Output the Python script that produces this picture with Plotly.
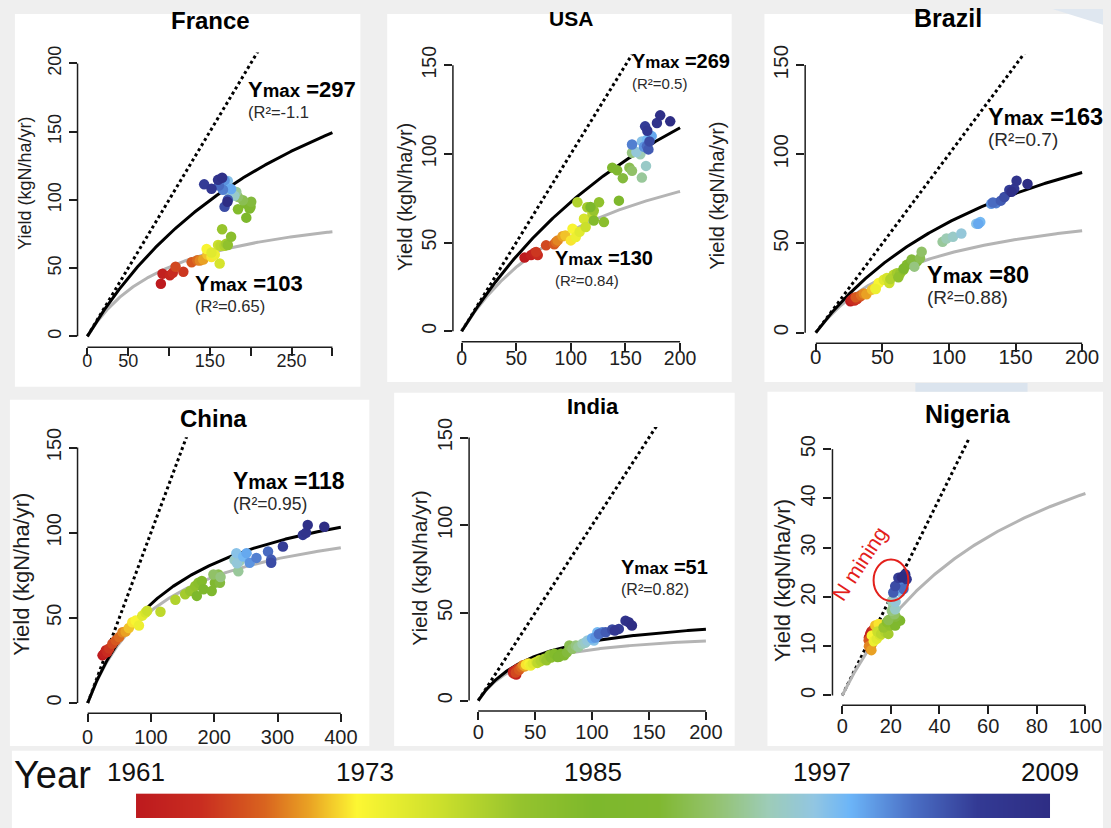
import numpy as np
import plotly.graph_objects as go

W, H = 1111, 828
FONT = "Liberation Sans, Arial, sans-serif"
INK = "#1e1e1e"

years = list(range(1961, 2010))
year_ticks = [1961, 1973, 1985, 1997, 2009]

# N input and yield (kgN/ha/yr), one value per year 1961-2009
france_n = [90, 92, 101, 104.6, 117.5, 108, 127.7, 134.6, 137.8, 141.9,
            147, 152, 146, 156, 152, 162, 160, 163, 168, 170,
            165, 172, 176, 184.4, 194.6, 198.6, 193.4, 199.8, 200.6, 190.5,
            184.4, 178.4, 182.4, 176, 180, 174, 172, 170, 176, 168,
            166, 161, 172, 168, 143, 152, 160, 165, 171.5]
france_y = [38.6, 45.9, 44.7, 46.6, 47.3, 51, 54.3, 55.8, 55.6, 56.3,
            60, 58.2, 64, 60, 61.5, 53.4, 67, 66.4, 66.4, 67.9,
            78.5, 67, 73, 93.2, 87, 93.7, 97.3, 95, 98.6, 99.8,
            102.2, 104, 105.8, 107.5, 103, 106, 113.8, 109.4, 108, 114.3,
            107.5, 110.6, 100.2, 95, 111.4, 108.2, 114.7, 116.2, 98.6]

usa_n = [57.6, 63.6, 66.7, 69.7, 68.2, 77.3, 84.8, 86.4, 87.9, 92.4,
         95, 100, 101.5, 104.5, 108, 112, 113.6, 119.7, 106, 115,
         121, 125.8, 130.3, 121, 118, 144, 137.9, 142.4, 147.6, 153.6,
         156, 156, 165, 163.6, 168.8, 160, 165, 169.7, 174, 167,
         156, 169.7, 171, 172, 168, 170, 178.8, 181.8, 191]
usa_y = [41.5, 42.9, 44.2, 42.9, 44.7, 48.4, 49.0, 50.3, 51.2, 53.5,
         54, 51.2, 57.8, 53.1, 56, 63.4, 58.7, 66.1, 72.7, 69.9,
         68, 72.7, 61.5, 62.4, 70, 73.6, 92.2, 90.7, 86.3, 92.2,
         90.4, 100.6, 86.6, 99.7, 93.2, 101, 107, 108, 110, 104,
         105.3, 104.3, 102.5, 107, 115.5, 113, 117.4, 121.7, 118.3]

brazil_n = [26, 28.6, 27, 29, 31, 33.5, 30, 34, 36, 38,
            42.2, 44.7, 47.2, 45, 51, 53.4, 55.2, 58.4, 56, 60.9,
            63.4, 62, 65.8, 68.3, 66, 70.8, 73.3, 75.8, 72, 78.3,
            79.5, 74, 95.2, 98.1, 103, 109.3, 120.5, 123.5, 122, 131.7,
            135.4, 133, 139, 141.6, 145.3, 149, 150.8, 147, 159]
brazil_y = [17.6, 19.4, 18.5, 18, 18.9, 20.4, 19.8, 21, 21.9, 21.5,
            24.1, 25, 27.8, 24.5, 29.6, 30.6, 27.8, 32.4, 30, 33.3,
            33.3, 31, 35.2, 38, 36, 38.9, 38.9, 39.8, 41, 41.7,
            45.4, 37, 50.9, 52.8, 53.7, 55.6, 61.1, 62, 61, 72.2,
            72.6, 73, 74, 76, 80, 80.6, 85.2, 79, 83.3]

china_n = [23.5, 26, 28.8, 31, 34, 39, 44.4, 49.7, 55, 60,
           65, 70.6, 75.8, 81, 86.3, 91.5, 94.1, 115, 138.6, 154,
           162, 170, 175, 180.4, 172.5, 183, 196, 201, 209, 206.5,
           198.7, 210, 238, 240, 232, 236, 235, 245.8, 251, 256,
           266.7, 285, 290, 290, 308.5, 340, 345, 347.7, 373.9]
china_y = [28, 29, 31, 30, 32, 34.8, 36.8, 38.7, 41.6, 42,
           44, 47.4, 48.4, 45.5, 51.3, 53.2, 54.2, 53.6, 60.6, 63.9,
           65.8, 68.7, 70.6, 71.6, 62.9, 66.8, 65.8, 70.6, 70.6, 75.5,
           75.5, 74, 77.4, 83.2, 84, 82, 88, 86, 88, 82.3,
           85.2, 89, 84.2, 82.3, 91.9, 98.7, 100, 104.5, 103.5]

india_n = [30.5, 33.4, 32, 31, 34.9, 33, 36, 38, 39.2, 41,
           43.6, 42, 45, 46, 48, 50.9, 53.8, 52, 55, 58.1,
           60, 62.5, 64, 66.9, 69.8, 72.7, 71, 75.6, 78, 80,
           82.8, 85.8, 88, 91.6, 94, 96, 101.7, 104.7, 100, 103,
           109, 106, 112, 117.7, 123.5, 120, 129.4, 132.3, 135]
india_y = [16.4, 14.9, 17, 15.5, 18.3, 16, 17.5, 19, 20.1, 19.5,
           21.1, 20.5, 21, 20, 21.1, 22, 23, 21.5, 22.5, 23.9,
           23, 25.8, 24.5, 26.7, 24.8, 26.7, 25, 25.8, 27.5, 31.4,
           29.6, 31.4, 30.5, 32.4, 33, 34.3, 34.3, 39, 35.5, 36,
           39, 38, 39, 40.5, 40.9, 40, 45.6, 44.7, 42.8]

nigeria_n = [11.5, 12, 11, 12.5, 13, 11.6, 10.9, 12.2, 11, 12,
             13.6, 15, 12.2, 13, 14.2, 15.6, 14.5, 16, 17.7, 19,
             17, 19.7, 18.4, 21, 22.4, 23.8, 21.8, 20.5, 22, 19,
             21.5, 20.4, 21, 20.4, 21.8, 22, 24, 23.4, 24.5, 22.4,
             23.8, 25.2, 21, 21.8, 23.1, 25.2, 26.5, 25.9, 24.5]
nigeria_y = [12.5, 13, 11.8, 12.2, 13.5, 9.5, 11.2, 10.5, 10, 9.2,
             14.2, 14.5, 12.2, 11, 11.5, 12.2, 13, 12.5, 12.9, 12.5,
             13.8, 14.2, 14.9, 15.5, 14.9, 15.2, 14.2, 15.8, 16, 15.3,
             16.5, 17.2, 18.2, 19.2, 17.5, 19, 21, 21.6, 22.5, 22.2,
             23.2, 21.6, 20.9, 22.2, 23.9, 24.2, 23.6, 24.6, 24]

# Fitted Ymax of the yield response curves (black: upper fit, grey: lower fit)
black_ymax = [297, 269, 163, 139, 51, None]
grey_ymax = [103, 130, 80, 118, 41, 69.5]

# Ymax / R² annotations: (value, R² text)
fit_labels = [
    [("297", "(R²=-1.1"), ("103", "(R²=0.65)")],
    [("269", "(R²=0.5)"), ("130", "(R²=0.84)")],
    [("163", "(R²=0.7)"), ("80", "(R²=0.88)")],
    [("118", "(R²=0.95)")],
    [("51", "(R²=0.82)")],
    [],
]

YEAR_SCALE = [
    [0.00, "#bd1a1e"], [0.07, "#c92d20"], [0.14, "#d9641f"], [0.19, "#eaa424"],
    [0.24, "#fdf733"], [0.33, "#cde02c"], [0.42, "#95c32d"], [0.50, "#7db82c"],
    [0.57, "#80b830"], [0.63, "#93c26c"], [0.69, "#9dccb8"], [0.74, "#92c6e2"],
    [0.78, "#6cb5f8"], [0.85, "#4a6ec4"], [0.92, "#333a94"], [1.00, "#2e2d84"],
]

panels = [
    dict(name="France", n=france_n, y=france_y, xmax=300, ymax=200,
         xt=[0, 50, 100, 150, 200, 250, 300], xl=["0", "50", "", "150", "", "250", ""],
         yt=[0, 50, 100, 150, 200],
         box=(15, 5, 363, 382), area=(78.1, 44, 344.7, 342),
         title=(212, 12, 24), ylab=(25, 176, 18), tick=18, xstand=-11,
         labpos=[(194, 174.2), (129.8, 31.5)], labsize=(22, 16.5)),
    dict(name="USA", n=usa_n, y=usa_y, xmax=200, ymax=150,
         xt=[0, 50, 100, 150, 200], xl=None, yt=[0, 50, 100, 150],
         box=(390, 5, 737, 377), area=(456.2, 46, 693.8, 336.5),
         title=(575, 10, 21), ylab=(408, 190, 20), tick=19.5, xstand=-9,
         labpos=[(154.5, 146.5), (83.6, 35.8)], labsize=(20, 15)),
    dict(name="Brazil", n=brazil_n, y=brazil_y, xmax=200, ymax=150,
         xt=[0, 50, 100, 150, 200], xl=None, yt=[0, 50, 100, 150],
         box=(770, 5, 1111, 377), area=(811, 45.9, 1100.7, 338),
         title=(955, 9, 25), ylab=(722, 189, 20), tick=20.5, xstand=-13,
         labpos=[(127.6, 115.5), (82.2, 26.9)], labsize=(23.5, 19)),
    dict(name="China", n=china_n, y=china_y, xmax=400, ymax=150,
         xt=[0, 100, 200, 300, 400], xl=None, yt=[0, 50, 100, 150],
         box=(10, 395, 372, 745), area=(78.1, 433, 353.5, 712),
         title=(215, 414, 24), ylab=(22, 571, 22), tick=20, xstand=-2,
         labpos=[(227, 124.7)], labsize=(23, 17.5)),
    dict(name="India", n=india_n, y=india_y, xmax=200, ymax=150,
         xt=[0, 50, 100, 150, 200], xl=None, yt=[0, 50, 100, 150],
         box=(397, 388, 740, 745), area=(472.5, 422.7, 720.2, 709.8),
         title=(597, 402, 22), ylab=(423, 565, 21), tick=20, xstand=-5,
         labpos=[(124.1, 70.3)], labsize=(20, 16)),
    dict(name="Nigeria", n=nigeria_n, y=nigeria_y, xmax=100, ymax=50,
         xt=[0, 20, 40, 60, 80, 100], xl=None, yt=[0, 10, 20, 30, 40, 50],
         box=(773, 387, 1111, 745), area=(838.5, 435, 1103.1, 704),
         title=(975, 409, 25), ylab=(788, 578, 22), tick=20, xstand=-5,
         labpos=[], labsize=(20, 16)),
]


def px(x):
    return x / W


def py(y):
    return 1 - y / H


fig = go.Figure()
layout = {}
shapes = []
annotations = []

for i, p in enumerate(panels, start=1):
    sx = "" if i == 1 else str(i)
    xa, ya = "x" + sx, "y" + sx
    L, T, R, B = p["area"]
    xr = [-0.04 * p["xmax"], 1.04 * p["xmax"]]
    yr = [-0.04 * p["ymax"], 1.04 * p["ymax"]]
    axis_common = dict(showgrid=False, zeroline=False, showline=False,
                       ticks="outside", ticklen=8, tickwidth=1.5, tickcolor=INK,
                       tickfont=dict(family=FONT, size=p["tick"], color=INK),
                       fixedrange=True)
    layout["xaxis" + sx] = dict(domain=[px(L), px(R)], range=xr, anchor=ya,
                                tickmode="array", tickvals=p["xt"],
                                ticktext=p["xl"] if p["xl"] else [str(v) for v in p["xt"]],
                                ticklabelstandoff=p["xstand"], **axis_common)
    layout["yaxis" + sx] = dict(domain=[py(B), py(T)], range=yr, anchor=xa,
                                tickmode="array", tickvals=p["yt"],
                                ticktext=[str(v) for v in p["yt"]],
                                tickangle=-90, **axis_common)

    # panel background
    bx0, by0, bx1, by1 = p["box"]
    shapes.append(dict(type="rect", xref="paper", yref="paper", layer="below",
                       x0=px(bx0), x1=px(bx1), y0=py(by1), y1=py(by0),
                       fillcolor="white", line=dict(width=0)))

    # detached R-style axis lines spanning first to last tick
    def fx(v, L=L, R=R, xr=xr):
        return px(L + (v - xr[0]) / (xr[1] - xr[0]) * (R - L))

    def fy(v, T=T, B=B, yr=yr):
        return py(B - (v - yr[0]) / (yr[1] - yr[0]) * (B - T))

    shapes.append(dict(type="line", xref="paper", yref="paper",
                       x0=fx(p["xt"][0]), x1=fx(p["xt"][-1]), y0=py(B), y1=py(B),
                       line=dict(color=INK, width=1.5)))
    shapes.append(dict(type="line", xref="paper", yref="paper",
                       x0=px(L), x1=px(L), y0=fy(p["yt"][0]), y1=fy(p["yt"][-1]),
                       line=dict(color=INK, width=1.5)))

    # 1:1 line
    fig.add_trace(go.Scatter(x=[0, p["xmax"]], y=[0, p["xmax"]], mode="lines",
                             line=dict(color="black", width=3, dash="dot"),
                             xaxis=xa, yaxis=ya, hoverinfo="skip"))
    fx_grid = np.linspace(0, p["xmax"], 240)
    if grey_ymax[i - 1] is not None:
        g = grey_ymax[i - 1]
        fig.add_trace(go.Scatter(x=fx_grid, y=g * fx_grid / (fx_grid + g), mode="lines",
                                 line=dict(color="#b4b4b4", width=3),
                                 xaxis=xa, yaxis=ya, hoverinfo="skip"))
    if black_ymax[i - 1] is not None:
        b = black_ymax[i - 1]
        fig.add_trace(go.Scatter(x=fx_grid, y=b * fx_grid / (fx_grid + b), mode="lines",
                                 line=dict(color="black", width=3),
                                 xaxis=xa, yaxis=ya, hoverinfo="skip"))
    fig.add_trace(go.Scatter(x=p["n"], y=p["y"], mode="markers",
                             marker=dict(color=years, colorscale=YEAR_SCALE, cmin=1961, cmax=2009,
                                         size=10.5, line=dict(width=0)),
                             xaxis=xa, yaxis=ya, text=years))

    # title and y-axis label
    tx, ty, ts = p["title"]
    annotations.append(dict(text="<b>%s</b>" % p["name"], xref="paper", yref="paper",
                            x=px(tx), y=py(ty), xanchor="center", yanchor="middle",
                            showarrow=False, font=dict(family=FONT, size=ts, color="black")))
    lx, ly, ls = p["ylab"]
    annotations.append(dict(text="Yield (kgN/ha/yr)", xref="paper", yref="paper",
                            x=px(lx), y=py(ly), xanchor="center", yanchor="middle",
                            textangle=-90, showarrow=False,
                            font=dict(family=FONT, size=ls, color=INK)))

    # Ymax headline with its R² underneath, as one two-line block
    big, small = p["labsize"]
    for (val, r2), (ax_, ay_) in zip(fit_labels[i - 1], p["labpos"]):
        text = ("<b><span style='font-size:%.1fpx'>Y</span>"
                "<span style='font-size:%.1fpx'>max</span>"
                "<span style='font-size:%.1fpx'> =%s</span></b><br>"
                "<span style='font-size:%.1fpx;color:#2a2a2a'>%s</span>"
                % (big, big * 0.85, big, val, small, r2))
        annotations.append(dict(
            text=text, xref=xa, yref=ya, x=ax_, y=ay_, xanchor="left", yanchor="middle",
            align="left", showarrow=False, font=dict(family=FONT, size=16, color="black")))

# N mining highlight on Nigeria
shapes.append(dict(type="circle", xref="x6", yref="y6", x0=12.9, x1=27.2, y0=19.2, y1=27.6,
                   line=dict(color="#e3201b", width=2)))
annotations.append(dict(text="N mining", xref="x6", yref="y6", x=7.2, y=26.8,
                        textangle=-57, showarrow=False,
                        font=dict(family=FONT, size=21, color="#e3201b")))

# collage strips
shapes.append(dict(type="rect", xref="paper", yref="paper", layer="below",
                   x0=px(12), x1=px(1111), y0=py(828), y1=py(750),
                   fillcolor="white", line=dict(width=0)))
shapes.append(dict(type="rect", xref="paper", yref="paper", layer="below",
                   x0=px(922), x1=px(1035), y0=py(387), y1=py(378),
                   fillcolor="#dbe4ee", line=dict(width=0)))
shapes.append(dict(type="path", xref="paper", yref="paper", layer="below",
                   path="M %.4f,%.4f L %.4f,%.4f L %.4f,%.4f Z"
                   % (px(1060), py(0), px(1111), py(0), px(1111), py(16)),
                   fillcolor="#dfe7f0", line=dict(width=0)))

# year colour bar
fig.add_trace(go.Heatmap(x=years, y=[0], z=[years], colorscale=YEAR_SCALE,
                         zmin=1961, zmax=2009, zsmooth="best", showscale=False,
                         xaxis="x7", yaxis="y7", hoverinfo="skip"))
layout["xaxis7"] = dict(domain=[px(137), px(1058)], range=[1961, 2009], anchor="y7",
                        visible=False, fixedrange=True)
layout["yaxis7"] = dict(domain=[py(818), py(793)], range=[-0.5, 0.5], anchor="x7",
                        visible=False, fixedrange=True)
for yv in year_ticks:
    annotations.append(dict(text=str(yv), xref="x7", yref="paper", x=yv, y=py(771),
                            xanchor="center", yanchor="middle", showarrow=False,
                            font=dict(family=FONT, size=26, color="#111")))
annotations.append(dict(text="Year", xref="paper", yref="paper", x=px(53), y=py(774),
                        xanchor="center", yanchor="middle", showarrow=False,
                        font=dict(family=FONT, size=38, color="#111")))

fig.update_layout(
    width=W, height=H, margin=dict(l=0, r=0, t=0, b=0),
    paper_bgcolor="#efefef", plot_bgcolor="white",
    showlegend=False, shapes=shapes, annotations=annotations,
    font=dict(family=FONT), **layout,
)

fig.write_html("out.html")
